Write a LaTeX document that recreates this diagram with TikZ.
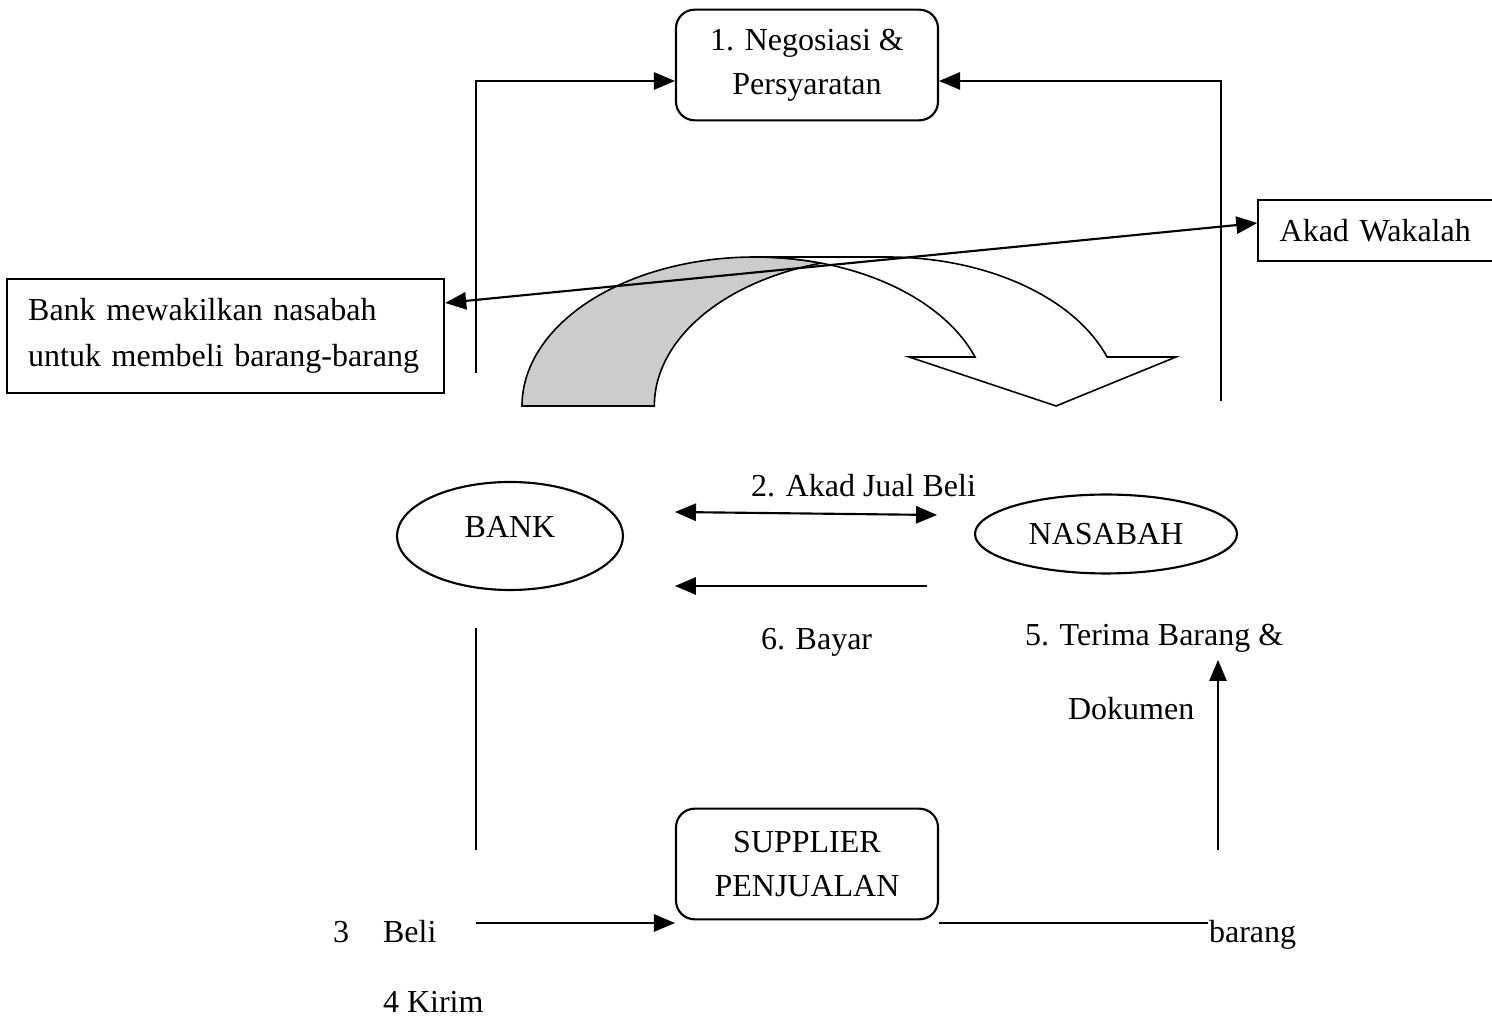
\documentclass[tikz,border=0pt]{standalone}
\usepackage{fontspec}
\setmainfont{Liberation Serif}
\usetikzlibrary{arrows, shapes.geometric}

\begin{document}
\begin{tikzpicture}[x=0.375pt,y=-0.375pt,>=triangle 45,line width=0.8pt,
  font=\fontsize{12}{16.5}\selectfont,
  process/.style={draw, rounded corners=7pt, align=center, inner sep=0pt,
    minimum width=98.25pt, minimum height=41.5pt},
  note/.style={draw, align=left, inner xsep=8pt, inner ysep=0pt},
  party/.style={draw, ellipse, inner sep=0pt},
  lbl/.style={anchor=base west, inner sep=0pt}]

\useasboundingbox (0,0) rectangle (1492,1018);

% the curved arrow
\filldraw[fill=black!20, line width=0.6pt] (522,406)
  arc[start angle=180, end angle=73.5, x radius=87.375pt, y radius=55.875pt]
  arc[start angle=106.5, end angle=180, x radius=87.375pt, y radius=55.875pt] -- cycle;
\filldraw[fill=white, line width=0.6pt] (755,257) -- (887,257)
  arc[start angle=90, end angle=19.2, x radius=87.375pt, y radius=55.875pt]
  -- (1176,357) -- (1056,406) -- (909,357) -- (975,357)
  arc[start angle=19.2, end angle=90, x radius=87.375pt, y radius=55.875pt] -- cycle;

% define the boxes
  \node[process] (nego)     at (807,65)   {1. Negosiasi \&\\Persyaratan};
  \node[process] (supplier) at (807,864)  {SUPPLIER\\PENJUALAN};
  \node[note, text width=148pt, minimum height=42.75pt, font=\fontsize{12}{17}\selectfont]
    (wakil) at (225.5,336) {Bank mewakilkan nasabah\\untuk membeli barang-barang};
  \node[note, text width=74.5pt, minimum height=22.9pt] (akad) at (1379,230.5) {Akad Wakalah};

% define the parties
  \node[party, minimum width=84.75pt, minimum height=40.5pt, text depth=6.8pt]
    (bank) at (510,536) {BANK};
  \node[party, minimum width=98.25pt, minimum height=29.6pt]
    (nasabah) at (1106,534) {NASABAH};

% the labels
  \node[lbl] (ljual)   at (750,497)  {2. Akad Jual Beli};
  \node[lbl] (lbayar)  at (760,650)  {6. Bayar};
  \node[lbl] (lterima) at (1024,646) {5. Terima Barang \&};
  \node[lbl] (ldok)    at (1067,720) {Dokumen};
  \node[lbl] (ltiga)   at (332,942)  {3};
  \node[lbl] (lbeli)   at (382,942)  {Beli};
  \node[lbl] (lbarang) at (1208,942) {barang};
  \node[lbl] (lkirim)  at (382,1012) {4 Kirim};

% free ends of the links
  \coordinate (lb) at (476,373);
  \coordinate (lt) at (476,81);
  \coordinate (rb) at (1221,401);
  \coordinate (rt) at (1221,81);
  \coordinate (j1) at (675,512);
  \coordinate (j2) at (937,515);
  \coordinate (p1) at (927,586);
  \coordinate (p2) at (675,586);
  \coordinate (v1) at (476,628);
  \coordinate (v2) at (476,850);
  \coordinate (b1) at (476,923);
  \coordinate (b2) at (1208,923);
  \coordinate (u1) at (1218,850);
  \coordinate (u2) at (1218,660);

% define the links
  \draw[->] (lb) -- (lt) -- (lt -| nego.west);
  \draw[->] (rb) -- (rt) -- (rt -| nego.east);
  \draw[<->] ([yshift=12.4pt]wakil.east) -- ([yshift=2.8pt]akad.west);
  \draw[<->] (j1) -- (j2);
  \draw[->] (p1) -- (p2);
  \draw (v1) -- (v2);
  \draw[->] (b1) -- (b1 -| supplier.west);
  \draw (b2 -| supplier.east) -- (b2);
  \draw[->] (u1) -- (u2);

\end{tikzpicture}
\end{document}
